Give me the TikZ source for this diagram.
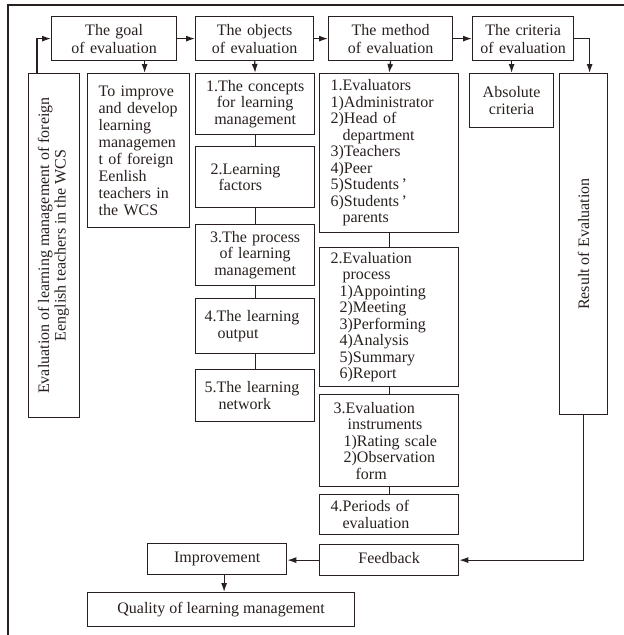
\documentclass[tikz,border=0pt]{standalone}
\usepackage{fontspec}
\setmainfont{Liberation Serif}
\usetikzlibrary{arrows.meta,calc}
\definecolor{ink}{RGB}{40,32,30}
\begin{document}
\begin{tikzpicture}[x=1pt,y=-1pt,
  every node/.style={font=\fontsize{16}{16.5}\selectfont, text=ink},
  bx/.style={draw=ink, line width=1.25pt, anchor=north west, inner xsep=0pt, inner ysep=0pt},
  one/.style={bx, text height=11pt, text depth=4pt},
  hdr/.style={bx, minimum height=44, align=center, font=\fontsize{16}{18}\selectfont},
  arr/.style={draw=ink, line width=1.25pt, -{Latex[length=9pt,width=6pt]}},
  ln/.style={draw=ink, line width=1.25pt}]
\useasboundingbox (0,0) rectangle (624,635);
\draw[ln] (8,635) -- (8,5) -- (624,5);

% headers
\node[hdr, minimum width=125, text width=115] (goal) at (51,16) {The goal\\of evaluation};
\node[hdr, minimum width=118, text width=110] (objects) at (195,16) {The objects\\of evaluation};
\node[hdr, minimum width=124, text width=116] (method) at (328,16) {The method\\of evaluation};
\node[hdr, minimum width=101, text width=95] (criteria) at (472,16) {The criteria\\of evaluation};

% left vertical box
\node[bx, minimum width=51, minimum height=344] (left) at (28,73)
  {\rotatebox{90}{\begin{tabular}{@{}c@{}}Evaluation of learning management of foreign\\Eenglish teachers in the WCS\end{tabular}}};

% goal text
\node[bx, minimum width=102, minimum height=154, text width=80, align=left,
  font=\fontsize{16}{17}\selectfont] (goaltext) at (87,73)
  {To improve\\and develop\\learning\\managemen\\t of foreign\\Eenlish\\teachers in\\the WCS};

% objects column
\node[bx, minimum width=119, minimum height=61, text width=110, align=center] (c1) at (195,73)
  {1.The concepts\\for learning\\management};
\node[bx, minimum width=119, minimum height=61, text width=101, align=left] (c2) at (195,146)
  {\hspace*{6pt}2.Learning\\\hspace*{14pt}factors};
\node[bx, minimum width=119, minimum height=61, text width=110, align=center] (c3) at (195,224)
  {3.The process\\of learning\\management};
\node[bx, minimum width=119, minimum height=55, text width=101, align=left] (c4) at (195,298)
  {4.The learning\\\hspace*{13pt}output};
\node[bx, minimum width=119, minimum height=52, text width=101, align=left] (c5) at (195,369)
  {5.The learning\\\hspace*{14pt}network};

% method column
\node[bx, minimum width=139, minimum height=159, text width=117, align=left] (m1) at (319,73)
  {1.Evaluators\\1)Administrator\\2)Head of\\\hspace*{12pt}department\\3)Teachers\\4)Peer\\5)Students\,’\\6)Students\,’\\\hspace*{12pt}parents};
\node[bx, minimum width=139, minimum height=139, text width=117, align=left] (m2) at (319,247)
  {2.Evaluation\\\hspace*{12pt}process\\\hspace*{9pt}1)Appointing\\\hspace*{9pt}2)Meeting\\\hspace*{9pt}3)Performing\\\hspace*{9pt}4)Analysis\\\hspace*{9pt}5)Summary\\\hspace*{9pt}6)Report};
\node[bx, minimum width=139, minimum height=92, text width=117, align=left] (m3) at (319,394)
  {\hspace*{3pt}3.Evaluation\\\hspace*{17pt}instruments\\\hspace*{13pt}1)Rating scale\\\hspace*{13pt}2)Observation\\\hspace*{25pt}form};
\node[bx, minimum width=139, minimum height=40, text width=117, align=left] (m4) at (319,494)
  {4.Periods of\\\hspace*{12pt}evaluation};
\node[one, minimum width=139, minimum height=31] (feedback) at (319,544) {Feedback};

% criteria column
\node[bx, minimum width=84, minimum height=54, align=center] (absolute) at (469,73) {Absolute\\criteria};
\node[bx, minimum width=48, minimum height=341] (result) at (559,73) {\rotatebox{90}{Result of Evaluation}};

% bottom
\node[one, minimum width=139, minimum height=31] (improvement) at (147,543) {Improvement};
\node[one, minimum width=267, minimum height=34] (quality) at (87,592) {Quality of learning management};

% connectors
\coordinate (la) at ($(left.north west)+(9,0)$);
\draw[arr] (la) |- (goal.west);
\draw[arr] (goal.east) -- (objects.west);
\draw[arr] (objects.east) -- (method.west);
\draw[arr] (method.east) -- (criteria.west);

\coordinate (ga) at ($(goaltext.north)+(6,0)$);
\draw[arr] (ga |- goal.south) -- (ga);
\draw[arr] (objects.south) -- (c1.north);
\draw[ln] (c1.south) -- (c2.north);
\draw[ln] (c2.south) -- (c3.north);
\draw[ln] (c3.south) -- (c4.north);
\draw[ln] (c4.south) -- (c5.north);

\draw[arr] (method.south) -- (m1.north);
\draw[ln] (m1.south) -- (m2.north);
\draw[ln] (m2.south) -- (m3.north);
\draw[ln] (m3.south) -- (m4.north);

\draw[arr] (absolute.north |- criteria.south) -- (absolute.north);
\coordinate (ra) at ($(result.north)+(6,0)$);
\draw[arr] (criteria.east) -| (ra);
\draw[arr] (result.south) |- (feedback.east);
\draw[arr] (feedback.west) -- (feedback.west -| improvement.east);
\coordinate (qa) at ($(improvement.south)+(7,0)$);
\draw[arr] (qa) -- (qa |- quality.north);
\end{tikzpicture}
\end{document}
